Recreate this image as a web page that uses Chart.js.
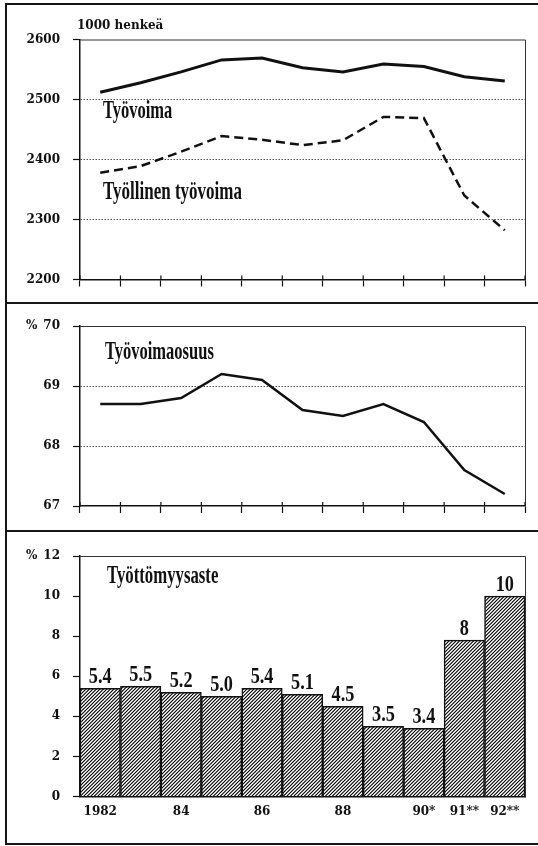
<!DOCTYPE html>
<html>
<head>
<meta charset="utf-8">
<script src="https://cdn.jsdelivr.net/npm/chart.js@4.4.1/dist/chart.umd.min.js"></script>
<style>
  html, body { margin: 0; padding: 0; background: #fff; }
  #wrap { position: relative; width: 538px; height: 846px; overflow: hidden; }
  #wrap canvas { position: absolute; left: 0; }
  .ln { position: absolute; background: #161616; }
</style>
</head>
<body>
<div id="wrap">
  <canvas id="c1" width="538" height="302" style="top:0"></canvas>
  <canvas id="c2" width="538" height="228" style="top:302px"></canvas>
  <canvas id="c3" width="538" height="316" style="top:530px"></canvas>
  <div class="ln" style="left:5px;top:3px;width:2px;height:842px"></div>
  <div class="ln" style="left:5px;top:3px;width:533px;height:1.5px"></div>
  <div class="ln" style="left:5px;top:302px;width:533px;height:1.5px"></div>
  <div class="ln" style="left:5px;top:530px;width:533px;height:1.5px"></div>
  <div class="ln" style="left:5px;top:843px;width:533px;height:1.5px"></div>
</div>
<script>
// vuodet 1982-1992
const years = ['1982','1983','1984','1985','1986','1987','1988','1989','1990','1991','1992'];
const yearTicks = ['1982','','84','','86','','88','','90*','91**','92**'];

// 1000 henkeä
const tyovoima = [2512, 2528, 2546, 2566, 2569, 2553, 2546, 2559, 2555, 2538, 2531];
const tyollinen = [2378, 2389, 2413, 2439, 2433, 2424, 2432, 2471, 2469, 2340, 2282];

// %
const osuus = [68.7, 68.7, 68.8, 69.2, 69.1, 68.6, 68.5, 68.7, 68.4, 67.6, 67.2];
const tyottomyys = [5.4, 5.5, 5.2, 5.0, 5.4, 5.1, 4.5, 3.5, 3.4, 7.8, 10.0];
const barLabels = ['5.4','5.5','5.2','5.0','5.4','5.1','4.5','3.5','3.4','8','10'];

const INK = '#111';
const tickFont = { family: '"DejaVu Serif", serif', size: 12, weight: 'bold' };

function condText(ctx, txt, x, y, size, sx, align) {
  ctx.save();
  ctx.font = 'bold ' + size + 'px "Liberation Serif", serif';
  ctx.fillStyle = INK;
  ctx.translate(x, y);
  ctx.scale(sx, 1);
  ctx.textAlign = align || 'left';
  ctx.textBaseline = 'alphabetic';
  ctx.fillText(txt, 0, 0);
  ctx.restore();
}

// tiheä vinoviivoitus pylväisiin
function hatch() {
  const s = 7;
  const c = document.createElement('canvas');
  c.width = s; c.height = s;
  const g = c.getContext('2d');
  g.fillStyle = '#fff';
  g.fillRect(0, 0, s, s);
  g.strokeStyle = '#000';
  g.lineWidth = 1.1;
  g.beginPath();
  for (let k = 0; k <= 4; k++) {
    const d = k * 3.5;
    g.moveTo(d - s - 1, s + 1);
    g.lineTo(d + 1, -1);
  }
  g.stroke();
  return g.createPattern(c, 'repeat');
}

// frame on top/right of plot + small tick crosses
function framePlugin(crossTicks) {
  return {
    id: 'frame',
    afterDraw(chart) {
      const { ctx, chartArea: a } = chart;
      ctx.save();
      ctx.strokeStyle = '#333';
      ctx.lineWidth = 1;
      ctx.beginPath();
      ctx.moveTo(a.left, a.top + 0.5);
      ctx.lineTo(a.right + 0.5, a.top + 0.5);
      ctx.lineTo(a.right + 0.5, a.bottom);
      ctx.stroke();
      if (crossTicks) {
        const n = chart.data.labels.length;
        ctx.strokeStyle = INK;
        ctx.lineWidth = 1.2;
        ctx.beginPath();
        for (let i = 0; i <= n; i++) {
          const x = a.left + (a.right - a.left) * i / n;
          ctx.moveTo(x, a.bottom - 4);
          ctx.lineTo(x, a.bottom);
        }
        ctx.stroke();
      }
      ctx.restore();
    }
  };
}

function yScale(min, max, step, grid) {
  return {
    min: min, max: max,
    ticks: { stepSize: step, color: INK, font: tickFont, padding: 13, callback: v => String(v) },
    grid: {
      drawOnChartArea: grid,
      color: c => (c.tick && (c.tick.value === min || c.tick.value === max)) ? 'rgba(0,0,0,0)' : '#555',
      lineWidth: 1,
      tickLength: 7,
      tickColor: INK,
      tickWidth: 1.2
    },
    border: { color: INK, width: 1.5, dash: [1.5, 1.5] },
    afterFit: s => { s.width = 80; }
  };
}

function xScale(h, showLabels) {
  return {
    offset: true,
    ticks: {
      display: showLabels,
      autoSkip: false,
      maxRotation: 0,
      color: INK,
      font: tickFont,
      padding: 8,
      callback: (v, i) => yearTicks[i]
    },
    grid: {
      offset: true,
      drawOnChartArea: false,
      drawTicks: !showLabels,
      tickLength: 7,
      tickColor: INK,
      tickWidth: 1.2
    },
    border: { color: INK, width: 1.5 },
    afterFit: s => { s.height = h; }
  };
}

const baseOpts = {
  responsive: false,
  animation: false,
  devicePixelRatio: 1,
  plugins: { legend: { display: false }, tooltip: { enabled: false } }
};

// --- Työvoima ---
new Chart(document.getElementById('c1'), {
  type: 'line',
  data: {
    labels: years,
    datasets: [
      { data: tyovoima, borderColor: INK, borderWidth: 3, pointRadius: 0, tension: 0 },
      { data: tyollinen, borderColor: INK, borderWidth: 2.5, borderDash: [9, 5], pointRadius: 0, tension: 0 }
    ]
  },
  options: Object.assign({}, baseOpts, {
    layout: { padding: { top: 39.5, right: 13, left: 0, bottom: 0 } },
    scales: { x: xScale(22.5, false), y: yScale(2200, 2600, 100, true) }
  }),
  plugins: [framePlugin(true), {
    id: 'txt1',
    afterDraw(chart) {
      const ctx = chart.ctx;
      ctx.save();
      ctx.font = 'bold 12px "DejaVu Serif", serif';
      ctx.fillStyle = INK;
      ctx.textBaseline = 'middle';
      ctx.fillText('1000 henkeä', 77, 26);
      ctx.restore();
      condText(ctx, 'Työvoima', 103, 118, 25, 0.66);
      condText(ctx, 'Työllinen työvoima', 103, 199, 25, 0.68);
    }
  }]
});

// --- Työvoimaosuus ---
new Chart(document.getElementById('c2'), {
  type: 'line',
  data: {
    labels: years,
    datasets: [
      { data: osuus, borderColor: INK, borderWidth: 2.5, pointRadius: 0, tension: 0 }
    ]
  },
  options: Object.assign({}, baseOpts, {
    layout: { padding: { top: 24, right: 13, left: 0, bottom: 0 } },
    scales: { x: xScale(24, false), y: yScale(67, 70, 1, true) }
  }),
  plugins: [framePlugin(true), {
    id: 'txt2',
    afterDraw(chart) {
      const ctx = chart.ctx;
      const y = chart.scales.y;
      ctx.save();
      ctx.font = 'bold 12px "DejaVu Serif", serif';
      ctx.fillStyle = INK;
      ctx.textBaseline = 'middle';
      ctx.fillText('%', 26, y.getPixelForValue(70));
      ctx.restore();
      condText(ctx, 'Työvoimaosuus', 105, 57, 25, 0.66);
    }
  }]
});

// --- Työttömyysaste ---
const ctx3 = document.getElementById('c3').getContext('2d');
new Chart(ctx3, {
  type: 'bar',
  data: {
    labels: years,
    datasets: [
      { data: tyottomyys, backgroundColor: hatch(), borderColor: INK, borderWidth: 1.5,
        barPercentage: 1, categoryPercentage: 1 }
    ]
  },
  options: Object.assign({}, baseOpts, {
    layout: { padding: { top: 26, right: 13, left: 0, bottom: 0 } },
    scales: { x: xScale(49.5, true), y: yScale(0, 12, 2, false) }
  }),
  plugins: [framePlugin(false), {
    id: 'txt3',
    afterDraw(chart) {
      const ctx = chart.ctx;
      const y = chart.scales.y;
      ctx.save();
      ctx.font = 'bold 12px "DejaVu Serif", serif';
      ctx.fillStyle = INK;
      ctx.textBaseline = 'middle';
      ctx.fillText('%', 26, y.getPixelForValue(12));
      ctx.restore();
      condText(ctx, 'Työttömyysaste', 107, 53, 25, 0.67);
      chart.getDatasetMeta(0).data.forEach((bar, i) => {
        condText(ctx, barLabels[i], bar.x, bar.y - 5, 24, 0.76, 'center');
      });
    }
  }]
});
</script>
</body>
</html>
